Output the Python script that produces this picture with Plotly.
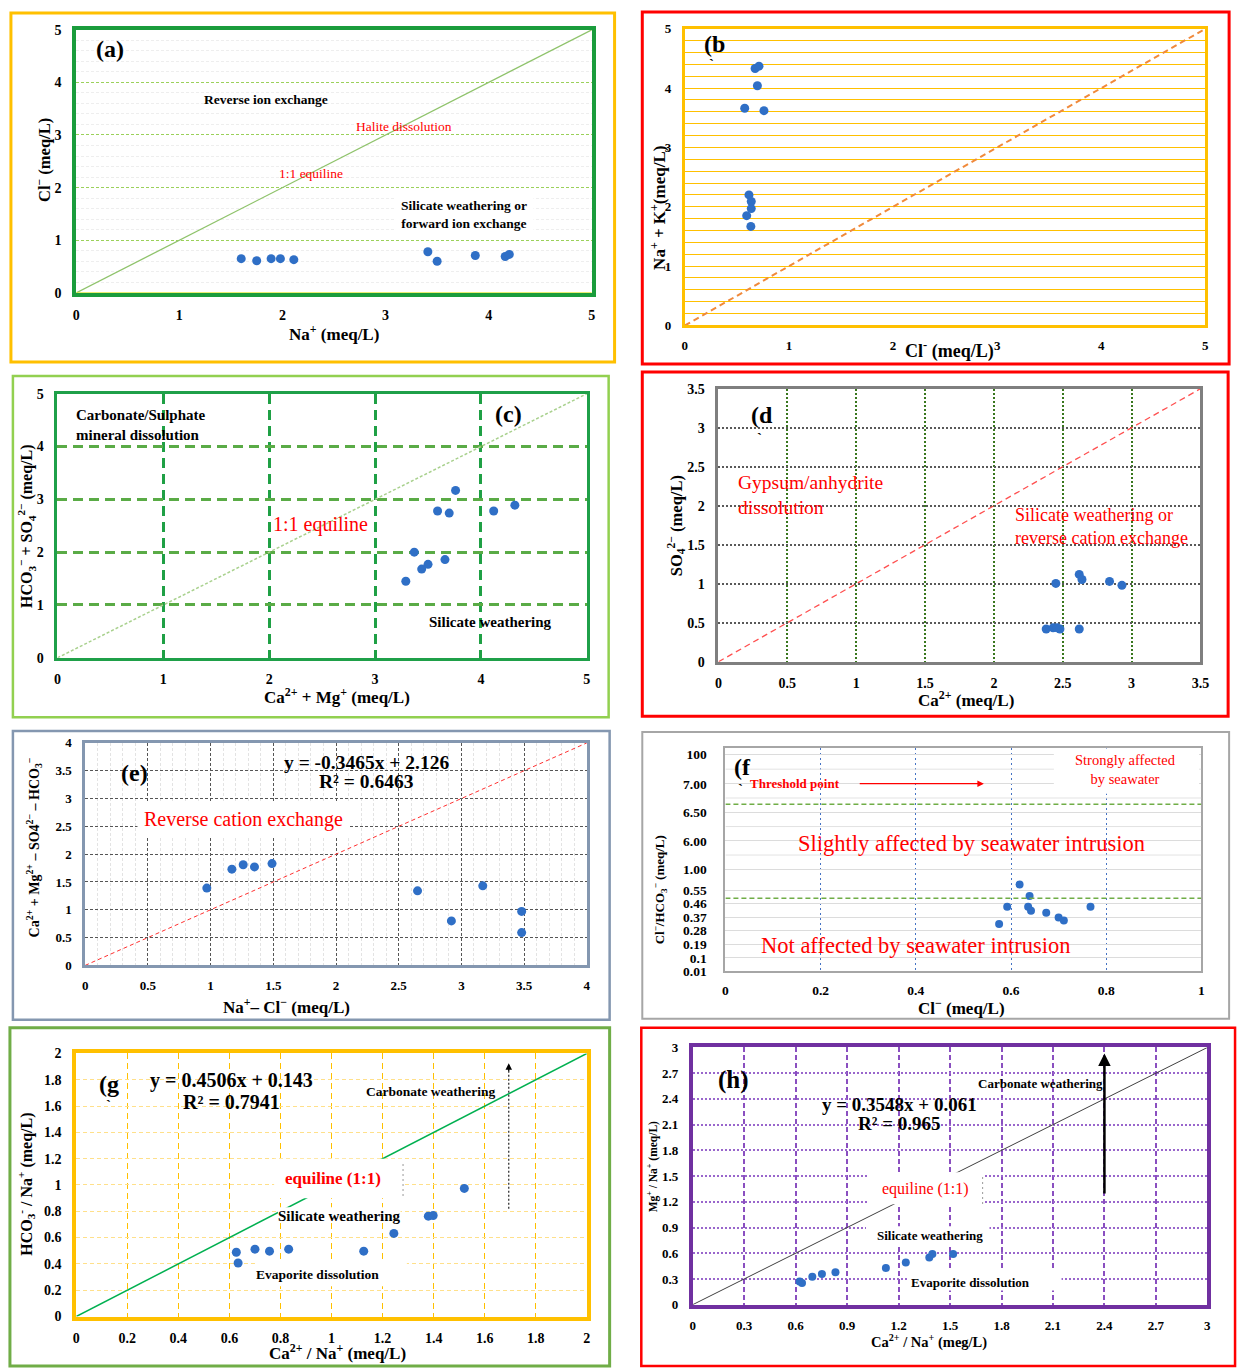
import plotly.graph_objects as go

W, H = 1249, 1372
SERIF = "Liberation Serif, Times New Roman, serif"
BLUE = "#2f6fc6"

# ---------------- data ----------------
# (a) Na+ vs Cl-
a_na = [1.60, 1.75, 1.89, 1.98, 2.11, 3.41, 3.50, 3.87, 4.16, 4.20]
a_cl = [0.65, 0.61, 0.65, 0.65, 0.63, 0.78, 0.60, 0.71, 0.69, 0.73]
# (b) Cl- vs Na+ + K+
b_cl = [0.675, 0.712, 0.697, 0.575, 0.760, 0.616, 0.638, 0.638, 0.594, 0.634]
b_nak = [4.33, 4.37, 4.04, 3.66, 3.62, 2.20, 2.09, 1.97, 1.85, 1.67]
# (c) Ca2+ + Mg vs HCO3- + SO4 2-
c_camg = [3.29, 3.37, 3.44, 3.50, 3.66, 3.59, 3.70, 3.76, 4.12, 4.32]
c_hco3_so4 = [1.45, 2.00, 1.68, 1.77, 1.86, 2.78, 2.74, 3.17, 2.78, 2.89]
# (d) Ca2+ vs SO4 2-
d_ca = [2.38, 2.43, 2.46, 2.48, 2.62, 2.45, 2.62, 2.64, 2.84, 2.93]
d_so4 = [0.42, 0.435, 0.435, 0.42, 0.42, 1.005, 1.12, 1.055, 1.03, 0.98]
# (e) Na+ - Cl- vs Ca2+ + Mg2+ - SO4 - HCO3
e_na_cl = [0.97, 1.17, 1.26, 1.35, 1.49, 2.65, 2.92, 3.17, 3.48, 3.48]
e_camg_so4_hco3 = [1.39, 1.73, 1.81, 1.77, 1.83, 1.34, 0.80, 1.43, 0.97, 0.59]
# (f) Cl- vs Cl-/HCO3-
f_cl = [0.575, 0.592, 0.618, 0.639, 0.636, 0.642, 0.674, 0.700, 0.711, 0.767]
f_ratio = [0.324, 0.439, 0.587, 0.511, 0.439, 0.413, 0.400, 0.367, 0.347, 0.439]
f_tick_labels = ["100", "7.00", "6.50", "6.00", "1.00", "0.55", "0.46",
                 "0.37", "0.28", "0.19", "0.1", "0.01"]
f_tick_pos = [1.451, 1.255, 1.068, 0.876, 0.689, 0.55, 0.46, 0.37, 0.28, 0.19, 0.10, 0.01]
f_thresholds = [1.12, 0.495]
# (g) Ca2+/Na+ vs HCO3-/Na+
g_ca_na = [0.627, 0.634, 0.700, 0.757, 0.832, 1.126, 1.244, 1.379, 1.398, 1.520]
g_hco3_na = [0.489, 0.407, 0.512, 0.497, 0.512, 0.497, 0.632, 0.763, 0.768, 0.974]
# (h) Ca2+/Na+ vs Mg/Na+
h_ca_na = [0.623, 0.637, 0.697, 0.753, 0.832, 1.126, 1.242, 1.379, 1.397, 1.518]
h_mg_na = [0.269, 0.254, 0.327, 0.358, 0.377, 0.427, 0.492, 0.550, 0.592, 0.592]

# ---------------- helpers ----------------
fig = go.Figure()
layout = dict(width=W, height=H, margin=dict(l=0, r=0, t=0, b=0),
              paper_bgcolor="white", plot_bgcolor="white", showlegend=False)
ann = []
shapes = []


def sfx(n):
    return "" if n == 1 else str(n)


def tfont(size):
    return dict(family=SERIF, size=size, color="black", weight="bold")


def axes(n, box, xr, yr, xdt, ydt, lcolor, lw, tsize=14, xgrid=None, ygrid=None,
         xminor=None, yminor=None, ytickvals=None, yticktext=None):
    l, r, t, b = box
    s = sfx(n)
    ax = dict(domain=[l / W, r / W], range=xr, dtick=xdt, tick0=0, anchor="y" + s,
              showline=True, mirror=True, linecolor=lcolor, linewidth=lw, ticks="",
              tickfont=tfont(tsize), ticklabelstandoff=6, zeroline=False,
              showgrid=False, fixedrange=True, layer="above traces")
    ay = dict(domain=[1 - b / H, 1 - t / H], range=yr, dtick=ydt, tick0=0, anchor="x" + s,
              showline=True, mirror=True, linecolor=lcolor, linewidth=lw, ticks="",
              tickfont=tfont(tsize), ticklabelstandoff=8, zeroline=False,
              showgrid=False, fixedrange=True, layer="above traces")
    if xgrid:
        ax.update(showgrid=True, **xgrid)
    if ygrid:
        ay.update(showgrid=True, **ygrid)
    if xminor:
        ax["minor"] = xminor
    if yminor:
        ay["minor"] = yminor
    if ytickvals is not None:
        ay.update(tickmode="array", tickvals=ytickvals, ticktext=yticktext)
    layout["xaxis" + s] = ax
    layout["yaxis" + s] = ay


def points(n, x, y, size=9):
    s = sfx(n)
    fig.add_trace(go.Scatter(x=x, y=y, mode="markers", xaxis="x" + s, yaxis="y" + s,
                             marker=dict(color=BLUE, size=size), hoverinfo="skip",
                             cliponaxis=False))


def diag(n, top, color, width, dash="solid"):
    s = sfx(n)
    fig.add_trace(go.Scatter(x=[0, top], y=[0, top], mode="lines", xaxis="x" + s,
                             yaxis="y" + s, line=dict(color=color, width=width, dash=dash),
                             hoverinfo="skip"))


def note(n, x, y, text, size, color="black", bold=False, xanchor="center", bg=None,
         pad=1):
    s = sfx(n)
    ann.append(dict(xref="x" + s, yref="y" + s, x=x, y=y,
                    text=("<b>%s</b>" % text) if bold else text, showarrow=False,
                    font=dict(family=SERIF, size=size, color=color), xanchor=xanchor,
                    yanchor="middle", align="left" if xanchor == "left" else "center",
                    bgcolor=bg, borderpad=pad))


def title(px, py, text, size, angle=0):
    ann.append(dict(xref="paper", yref="paper", x=px / W, y=1 - py / H,
                    text="<b>%s</b>" % text, showarrow=False, textangle=angle,
                    font=dict(family=SERIF, size=size, color="black"),
                    xanchor="center", yanchor="middle"))


def frame(l, t, r, b, color, w):
    shapes.append(dict(type="rect", xref="paper", yref="paper", x0=l / W, x1=r / W,
                       y0=1 - b / H, y1=1 - t / H, line=dict(color=color, width=w),
                       fillcolor="rgba(0,0,0,0)", layer="above"))


def blank(n, x0, x1, y0, y1):
    s = sfx(n)
    shapes.append(dict(type="rect", xref="x" + s, yref="y" + s, x0=x0, x1=x1, y0=y0,
                       y1=y1, line=dict(width=0), fillcolor="white", layer="above"))


def seg(n, x0, y0, x1, y1, color, width, dash="solid"):
    s = sfx(n)
    shapes.append(dict(type="line", xref="x" + s, yref="y" + s, x0=x0, y0=y0, x1=x1,
                       y1=y1, line=dict(color=color, width=width, dash=dash),
                       layer="above"))


def arrow(n, x0, y0, x1, y1, color, width, head=2):
    s = sfx(n)
    ann.append(dict(xref="x" + s, yref="y" + s, axref="x" + s, ayref="y" + s,
                    x=x1, y=y1, ax=x0, ay=y0, text="", showarrow=True,
                    arrowhead=head, arrowsize=1, arrowwidth=width, arrowcolor=color))


# ---------------- (a) ----------------
frame(7, 6, 617, 359, "#FFC000", 3)
axes(1, (73, 594, 23, 289), [0, 5], [0, 5], 1, 1, "#1a9c3c", 4,
     ygrid=dict(gridcolor="#9BD15A", gridwidth=1, griddash="3px,2px"),
     yminor=dict(dtick=0.2, showgrid=True, gridcolor="#eeeeee", gridwidth=1))
diag(1, 5, "#8fc36b", 1.3)
points(1, a_na, a_cl)
seg(1, 0, 0, 5, 0, "#d8e000", 1.2)
note(1, 0.33, 4.64, "(a)", 24, bold=True)
note(1, 1.84, 3.67, "Reverse ion exchange", 13.5, bold=True)
note(1, 3.18, 3.16, "Halite dissolution", 13.5, color="red")
note(1, 2.28, 2.26, "1:1 equiline", 13.5, color="red")
note(1, 3.76, 1.49, "Silicate weathering or<br>forward ion exchange", 13.5, bold=True,
     bg="white", pad=6)
title(333, 330, "Na<sup>+</sup> (meq/L)", 17)
title(40, 155, "Cl<sup>−</sup> (meq/L)", 16.5, -90)

# ---------------- (b) ----------------
frame(645, 5, 1238, 361, "#FF0000", 3)
axes(2, (688, 1214, 22, 322), [0, 5], [0, 5], 1, 1, "#FFC000", 3, tsize=13,
     ygrid=dict(gridcolor="#FFC000", gridwidth=1.2))
layout["yaxis2"]["minor"] = dict(dtick=0.2, showgrid=True, gridcolor="#FFC000", gridwidth=1.2)
diag(2, 5, "#F08A3C", 2, "6px,4px")
points(2, b_cl, b_nak)
note(2, 0.285, 4.75, "(b", 24, bold=True)
note(2, 0.26, 4.4, "`", 15, bold=True)
title(955, 347, "Cl<sup>-</sup> (meq/L)", 18)
title(661, 203, "Na<sup>+</sup> + K<sup>+</sup>(meq/L)", 17, -90)

# ---------------- (c) ----------------
frame(9, 373, 611, 718, "#92D050", 2.5)
axes(3, (54, 589, 391, 658), [0, 5], [0, 5], 1, 1, "#1FA049", 3,
     xgrid=dict(gridcolor="#1fa045", gridwidth=2.5, griddash="10px,6px"),
     ygrid=dict(gridcolor="#5aab46", gridwidth=2.5, griddash="10px,6px"))
diag(3, 5, "#A9D18E", 1.5, "3px,2px")
points(3, c_camg, c_hco3_so4)
note(3, 0.16, 4.41, "Carbonate/Sulphate<br>mineral dissolution", 15, bold=True,
     xanchor="left")
note(3, 4.26, 4.61, "(c)", 24, bold=True)
note(3, 2.48, 2.53, "1:1 equiline", 20, color="red")
note(3, 4.09, 0.67, "Silicate weathering", 15, bold=True)
title(337, 697, "Ca<sup>2+</sup> + Mg<sup>+</sup> (meq/L)", 17)
title(23, 525, "HCO<sub>3</sub><sup>−</sup> + SO<sub>4</sub><sup>2−</sup> (meq/L)", 16, -90)

# ---------------- (d) ----------------
frame(645, 369, 1237, 717, "#FF0000", 3)
axes(4, (722, 1209, 386, 662), [0, 3.5], [0, 3.5], 0.5, 0.5, "#7F7F7F", 3,
     xgrid=dict(gridcolor="#38761D", gridwidth=1.5, griddash="2px,2px"),
     ygrid=dict(gridcolor="#595959", gridwidth=1.5, griddash="2px,2px"))
diag(4, 3.5, "#FF5050", 1.3, "6px,4px")
points(4, d_ca, d_so4)
note(4, 0.316, 3.16, "(d", 24, bold=True)
note(4, 0.30, 2.87, "`", 15, bold=True)
note(4, 0.13, 2.14, "Gypsum/anhydrite<br>dissolution", 19.5, color="red", xanchor="left")
note(4, 2.14, 1.74, "Silicate weathering or<br>reverse cation exchange", 18, color="red",
     xanchor="left")
title(972, 700, "Ca<sup>2+</sup> (meq/L)", 17)
title(679, 524, "SO<sub>4</sub><sup>2−</sup> (meq/L)", 16.5, -90)

# ---------------- (e) ----------------
frame(9, 732, 612, 1024, "#8497B0", 2.5)
axes(5, (82, 589, 744, 969), [0, 4], [0, 4], 0.5, 0.5, "#8497B0", 2.5, tsize=13,
     xgrid=dict(gridcolor="#555555", gridwidth=1.3, griddash="3px,2px"),
     ygrid=dict(gridcolor="#555555", gridwidth=1.3, griddash="3px,2px"),
     xminor=dict(dtick=0.1, showgrid=True, gridcolor="#e3e3e3", gridwidth=1))
diag(5, 4, "#FF3030", 1, "4px,3px")
points(5, e_na_cl, e_camg_so4_hco3)
note(5, 0.39, 3.45, "(e)", 24, bold=True)
note(5, 2.24, 3.64, "y = -0.3465x + 2.126", 19.5, bold=True)
note(5, 2.24, 3.31, "R² = 0.6463", 19.5, bold=True)
note(5, 1.26, 2.63, "Reverse cation exchange", 20, color="red", bg="white", pad=6)
title(285, 1010, "Na<sup>+</sup>– Cl<sup>−</sup> (meq/L)", 17)
title(30, 850, "Ca<sup>2+</sup> + Mg<sup>2+</sup> – SO4<sup>2−</sup> – HCO<sub>3</sub><sup>−</sup>",
      14, -90)

# ---------------- (f) ----------------
frame(645, 733, 1238, 1023, "#A6A6A6", 2)
axes(6, (729, 1210, 749, 975), [0, 1], [0.01, 1.495], 0.2, None, "#A6A6A6", 2, tsize=13.5,
     xgrid=dict(gridcolor="#4472C4", gridwidth=1, griddash="2px,3px"),
     ygrid=dict(gridcolor="#dcdcdc", gridwidth=1),
     ytickvals=f_tick_pos, yticktext=f_tick_labels)
layout["yaxis6"]["ticklabelstandoff"] = 14
layout["xaxis6"]["ticklabelstandoff"] = 5
for i in range(4):
    mid = (f_tick_pos[i] + f_tick_pos[i + 1]) / 2
    seg(6, 0, mid, 1, mid, "#e3e3e3", 1)
for yv in f_thresholds:
    seg(6, 0, yv, 1, yv, "#70AD47", 1.5, "5px,3px")
blank(6, 0.69, 0.995, 1.19, 1.49)
points(6, f_cl, f_ratio, 8)
note(6, 0.036, 1.37, "(f", 24, bold=True)
note(6, 0.032, 1.22, "`", 15, bold=True)
note(6, 0.048, 1.26, "Threshold point", 13, color="red", bold=True, xanchor="left")
arrow(6, 0.279, 1.257, 0.543, 1.257, "red", 1.3)
note(6, 0.84, 1.348, "Strongly affected<br>by seawater", 14.5, color="red")
note(6, 0.518, 0.862, "Slightly affected by seawater intrusion", 22.5, color="red")
note(6, 0.40, 0.183, "Not affected by seawater intrusion", 22.5, color="red")
title(968, 1011, "Cl<sup>−</sup> (meq/L)", 17)
title(663, 893, "Cl<sup>−</sup>/HCO<sub>3</sub><sup>−</sup> (meq/L)", 13, -90)

# ---------------- (g) ----------------
frame(6, 1032, 612, 1374, "#70AD47", 3)
axes(7, (73, 589, 1058, 1324), [0, 2], [0, 2], 0.2, 0.2, "#FFC000", 4,
     xgrid=dict(gridcolor="#FFC000", gridwidth=1.3, griddash="6px,4px"),
     ygrid=dict(gridcolor="#FFE08A", gridwidth=1, griddash="4px,3px"))
diag(7, 2, "#00B050", 1.5)
points(7, g_ca_na, g_hco3_na)
blank(7, 0.775, 1.285, 0.9, 1.2)
blank(7, 0.79, 1.27, 0.71, 0.83)
blank(7, 0.70, 1.295, 0.23, 0.42)
seg(7, 1.28, 0.92, 1.28, 1.18, "#333333", 1, "1px,4px")
seg(7, 1.694, 0.82, 1.694, 1.86, "#333333", 1.3, "2px,2px")
arrow(7, 1.694, 1.85, 1.694, 1.925, "#000000", 1.3)
note(7, 0.128, 1.767, "(g", 24, bold=True)
note(7, 0.125, 1.61, "`", 15, bold=True)
note(7, 0.608, 1.797, "y = 0.4506x + 0.143", 20, bold=True)
note(7, 0.608, 1.63, "R² = 0.7941", 20, bold=True)
note(7, 1.39, 1.707, "Carbonate weathering", 13.5, bold=True)
note(7, 1.004, 1.053, "equiline (1:1)", 17, color="red", bold=True)
note(7, 1.03, 0.767, "Silicate weathering", 15, bold=True)
note(7, 0.946, 0.316, "Evaporite dissolution", 13.5, bold=True)
title(337, 1360, "Ca<sup>2+</sup> / Na<sup>+</sup> (meq/L)", 17)
title(22, 1190, "HCO<sub>3</sub><sup>-</sup> / Na<sup>+</sup> (meq/L)", 16, -90)

# ---------------- (h) ----------------
frame(644, 1032, 1244, 1374, "#FF0000", 2.5)
axes(8, (696, 1216, 1052, 1312), [0, 3], [0, 3], 0.3, 0.3, "#7030A0", 4, tsize=13,
     xgrid=dict(gridcolor="#8a4fc0", gridwidth=1.5, griddash="5px,3px"),
     ygrid=dict(gridcolor="#9966cc", gridwidth=1.5, griddash="2px,2px"))
diag(8, 3, "#404040", 1)
points(8, h_ca_na, h_mg_na, 8)
blank(8, 1.02, 1.70, 1.17, 1.545)
blank(8, 1.01, 1.73, 0.70, 0.915)
blank(8, 1.25, 2.15, 0.165, 0.40)
seg(8, 1.69, 1.18, 1.69, 1.49, "#333333", 1, "1px,4px")
arrow(8, 2.4, 1.28, 2.4, 2.93, "#000000", 2.5)
note(8, 0.237, 2.62, "(h)", 25, bold=True)
note(8, 2.03, 2.585, "Carbonate weathering", 13, bold=True)
note(8, 1.206, 2.34, "y = 0.3548x + 0.061", 19, bold=True)
note(8, 1.206, 2.11, "R² = 0.965", 19, bold=True)
note(8, 1.356, 1.35, "equiline (1:1)", 16, color="red")
note(8, 1.385, 0.81, "Silicate weathering", 13, bold=True)
note(8, 1.62, 0.254, "Evaporite dissolution", 13, bold=True)
title(935, 1349, "Ca<sup>2+</sup> / Na<sup>+</sup> (meg/L)", 14.5)
title(655, 1173, "Mg<sup>+</sup> / Na<sup>+</sup> (meq/L)", 11.5, -90)

layout["annotations"] = ann
layout["shapes"] = shapes
fig.update_layout(**layout)
fig.write_html("out.html", post_script="document.body.style.margin='0px';")
